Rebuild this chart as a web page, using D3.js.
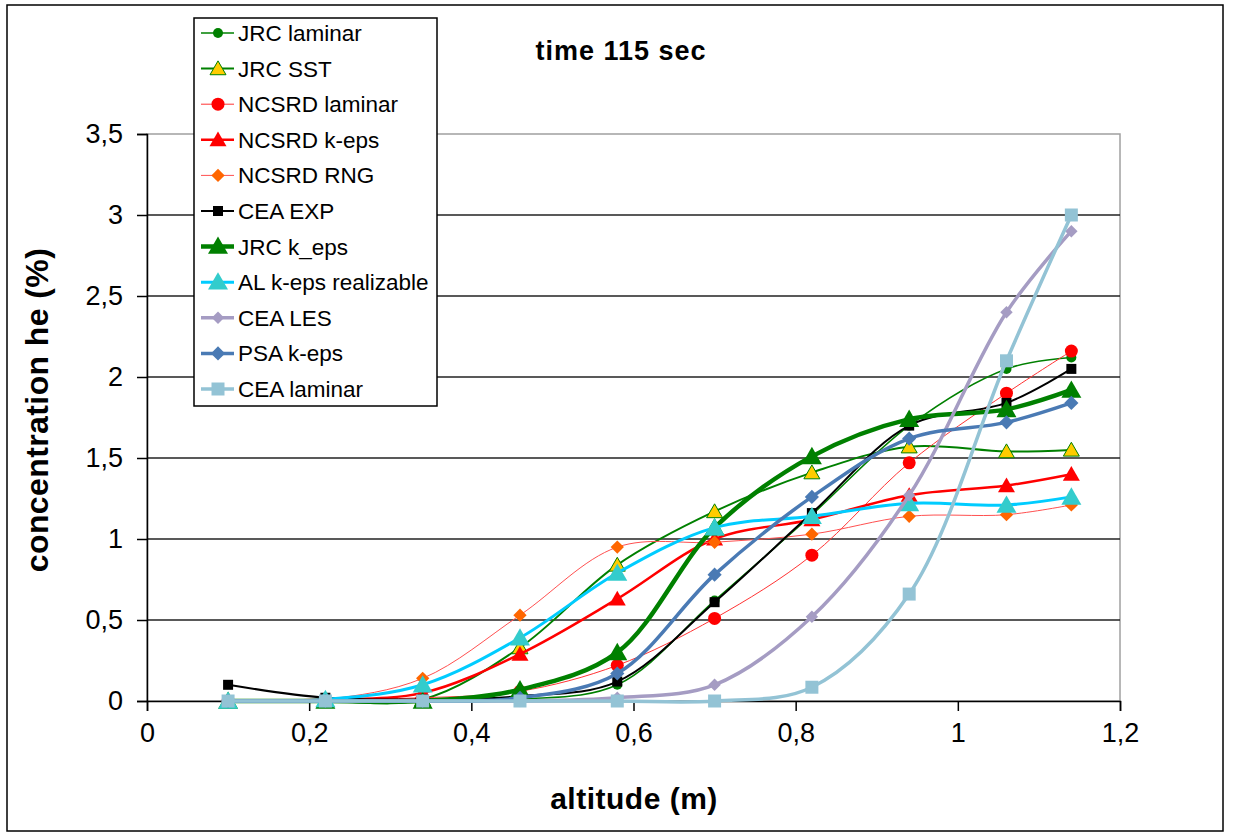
<!DOCTYPE html>
<html>
<head>
<meta charset="utf-8">
<script src="https://cdn.jsdelivr.net/npm/d3@7"></script>
<style>
  body { margin: 0; background: #fff; }
  svg text { font-family: Arial, "Liberation Sans", sans-serif; }
</style>
</head>
<body>
<svg id="chart" width="1234" height="835"></svg>
<script>
// altitude (m) of the measurement points
const altitudes = [0.1, 0.22, 0.34, 0.46, 0.58, 0.70, 0.82, 0.94, 1.06, 1.14];

// helium concentration (%) per series
const jrcLaminar   = [0, 0, 0, 0.01, 0.10, 0.62, 1.15, 1.70, 2.05, 2.12];
const jrcSST       = [0, 0, 0.01, 0.33, 0.84, 1.17, 1.41, 1.57, 1.54, 1.55];
const ncsrdLaminar = [0, 0.01, 0.02, 0.06, 0.22, 0.51, 0.90, 1.47, 1.90, 2.16];
const ncsrdKeps    = [0, 0.01, 0.05, 0.29, 0.63, 1.00, 1.12, 1.27, 1.33, 1.40];
const ncsrdRNG     = [0, 0.01, 0.14, 0.53, 0.95, 0.98, 1.03, 1.14, 1.15, 1.21];
const ceaExp       = [0.10, 0.02, 0.01, 0.03, 0.12, 0.61, 1.16, 1.70, 1.84, 2.05];
const jrcKeps      = [0, 0, 0, 0.07, 0.30, 1.07, 1.51, 1.74, 1.80, 1.92];
const alKeps       = [0, 0.01, 0.10, 0.39, 0.79, 1.07, 1.14, 1.22, 1.21, 1.26];
const ceaLES       = [0, 0, 0, 0, 0.02, 0.10, 0.52, 1.27, 2.40, 2.90];
const psaKeps      = [0, 0, 0, 0.02, 0.17, 0.78, 1.26, 1.62, 1.72, 1.84];
const ceaLaminar   = [0, 0, 0, 0, 0, 0, 0.085, 0.66, 2.10, 3.00];

const xTicks = [0, 0.2, 0.4, 0.6, 0.8, 1.0, 1.2];
const yTicks = [0, 0.5, 1, 1.5, 2, 2.5, 3, 3.5];

const series = [
  {name: "JRC laminar", values: jrcLaminar, line: "#008000", lw: 1.6, sym: "circle", size: 5, fill: "#008000", stroke: "none"},
  {name: "JRC SST", values: jrcSST, line: "#008000", lw: 2, sym: "triangle", size: 8, fill: "#FFCC00", stroke: "#008000"},
  {name: "NCSRD laminar", values: ncsrdLaminar, line: "#FF3333", lw: 1, sym: "circle", size: 6.5, fill: "#FF0000", stroke: "none"},
  {name: "NCSRD k-eps", values: ncsrdKeps, line: "#FF0000", lw: 2.5, sym: "triangle", size: 8.5, fill: "#FF0000", stroke: "none"},
  {name: "NCSRD RNG", values: ncsrdRNG, line: "#FF5050", lw: 1, sym: "diamond", size: 7.5, fill: "#FF6600", stroke: "none"},
  {name: "CEA EXP", values: ceaExp, line: "#000000", lw: 2, sym: "square", size: 5, fill: "#000000", stroke: "none"},
  {name: "JRC k_eps", values: jrcKeps, line: "#008000", lw: 4.5, sym: "triangle", size: 10, fill: "#008000", stroke: "none"},
  {name: "AL k-eps realizable", values: alKeps, line: "#00CCFF", lw: 3, sym: "triangle", size: 10, fill: "#33CCCC", stroke: "none"},
  {name: "CEA LES", values: ceaLES, line: "#A59CC3", lw: 3.5, sym: "diamond", size: 7, fill: "#A59CC3", stroke: "none"},
  {name: "PSA k-eps", values: psaKeps, line: "#4A7AB4", lw: 3.5, sym: "diamond", size: 8, fill: "#4A7AB4", stroke: "none"},
  {name: "CEA laminar", values: ceaLaminar, line: "#93C3D5", lw: 3.5, sym: "square", size: 6.5, fill: "#93C3D5", stroke: "none"}
];

const svg = d3.select("#chart");

// outer frame
svg.append("rect")
  .attr("x", 7).attr("y", 5).attr("width", 1216).attr("height", 826)
  .attr("fill", "none").attr("stroke", "#000").attr("stroke-width", 1.5);

const x = d3.scaleLinear().domain([0, 1.2]).range([147, 1120]);
const y = d3.scaleLinear().domain([0, 3.5]).range([701, 134]);

// plot area border (grey top/right)
svg.append("rect")
  .attr("x", x(0)).attr("y", y(3.5))
  .attr("width", x(1.2) - x(0)).attr("height", y(0) - y(3.5))
  .attr("fill", "none").attr("stroke", "#A0A0A0").attr("stroke-width", 1.5);

// gridlines
svg.append("g")
  .selectAll("line")
  .data(yTicks.filter(d => d > 0 && d < 3.5))
  .join("line")
  .attr("x1", x(0)).attr("x2", x(1.2))
  .attr("y1", d => y(d)).attr("y2", d => y(d))
  .attr("stroke", "#222").attr("stroke-width", 1.5);

const fmt = d => String(+d.toFixed(1)).replace(".", ",");

const yAxis = svg.append("g")
  .attr("transform", `translate(${x(0)},0)`)
  .call(d3.axisLeft(y).tickValues(yTicks).tickFormat(fmt).tickSize(10).tickPadding(14));
const xAxis = svg.append("g")
  .attr("transform", `translate(0,${y(0)})`)
  .call(d3.axisBottom(x).tickValues(xTicks).tickFormat(fmt).tickSize(10).tickPadding(12));

[yAxis, xAxis].forEach(g => {
  g.select(".domain").attr("stroke", "#000").attr("stroke-width", 1.5);
  g.selectAll(".tick line").attr("stroke", "#000").attr("stroke-width", 1.5);
  g.selectAll(".tick text").attr("fill", "#000")
    .style("font-family", "Arial, 'Liberation Sans', sans-serif")
    .style("font-size", "27px");
});

const symbolType = {circle: d3.symbolCircle, triangle: d3.symbolTriangle, diamond: d3.symbolDiamond2, square: d3.symbolSquare};

// size is a half-width in px, converted to symbol area
function marker(s, k = 1) {
  const r = s.size * k;
  let area;
  if (s.sym === "circle") area = Math.PI * r * r;
  else if (s.sym === "square") area = 4 * r * r;
  else if (s.sym === "diamond") area = 2 * r * r;
  else area = Math.sqrt(3) * r * r;
  return d3.symbol().type(symbolType[s.sym]).size(area)();
}

const line = d3.line()
  .x((d, i) => x(altitudes[i]))
  .y(d => y(d))
  .curve(d3.curveCatmullRom.alpha(0.5));

const plot = svg.append("g");
series.forEach(s => {
  const g = plot.append("g");
  g.append("path")
    .attr("d", line(s.values))
    .attr("fill", "none")
    .attr("stroke", s.line)
    .attr("stroke-width", s.lw)
    .attr("stroke-linejoin", "round");
  g.selectAll("path.pt")
    .data(s.values)
    .join("path")
    .attr("class", "pt")
    .attr("d", marker(s))
    .attr("transform", (d, i) => `translate(${x(altitudes[i])},${y(d) + (s.sym === "triangle" ? s.size * 0.2 : 0)})`)
    .attr("fill", s.fill)
    .attr("stroke", s.stroke)
    .attr("stroke-width", 1);
});

// title
svg.append("text")
  .attr("x", 621).attr("y", 60)
  .attr("text-anchor", "middle")
  .style("font-size", "27px").style("font-weight", "bold").style("letter-spacing", "1px")
  .text("time 115 sec");

// axis titles
svg.append("text")
  .attr("x", 634).attr("y", 809)
  .attr("text-anchor", "middle")
  .style("font-size", "30px").style("font-weight", "bold").style("letter-spacing", "0.5px")
  .text("altitude (m)");

svg.append("text")
  .attr("transform", "translate(48,410) rotate(-90)")
  .attr("text-anchor", "middle")
  .style("font-size", "32px").style("font-weight", "bold").style("letter-spacing", "0.4px")
  .text("concentration he (%)");

// legend
const legend = svg.append("g");
legend.append("rect")
  .attr("x", 194).attr("y", 18).attr("width", 243).attr("height", 388)
  .attr("fill", "#fff").attr("stroke", "#000").attr("stroke-width", 1.5);

series.forEach((s, i) => {
  const ly = 33 + i * 35.6;
  legend.append("line")
    .attr("x1", 201).attr("x2", 234).attr("y1", ly).attr("y2", ly)
    .attr("stroke", s.line).attr("stroke-width", s.lw);
  legend.append("path")
    .attr("d", marker(s, 1))
    .attr("transform", `translate(218,${ly + (s.sym === "triangle" ? 1.5 : 0)})`)
    .attr("fill", s.fill).attr("stroke", s.stroke).attr("stroke-width", 1);
  legend.append("text")
    .attr("x", 238).attr("y", ly + 8)
    .style("font-size", "22.5px")
    .text(s.name);
});
</script>
</body>
</html>
